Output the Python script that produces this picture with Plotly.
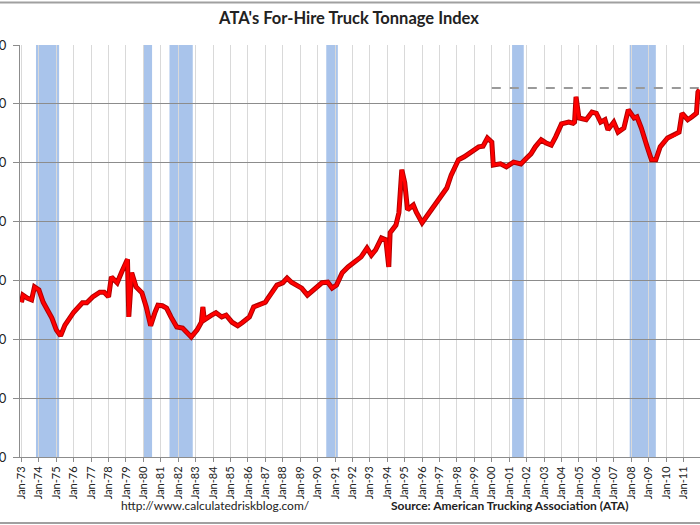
import plotly.graph_objects as go

# monthly readings of the tonnage index (2000=100)
months = [
    "1973-01", "1973-02", "1973-05", "1973-08", "1973-10", "1974-01", "1974-04", "1974-07",
    "1974-10", "1975-01", "1975-04", "1975-07", "1976-01", "1976-07", "1976-10", "1977-02",
    "1977-07", "1977-10", "1978-01", "1978-03", "1978-07", "1978-10", "1979-02", "1979-03",
    "1979-05", "1979-08", "1979-12", "1980-03", "1980-06", "1980-09", "1980-11", "1981-02",
    "1981-05", "1981-08", "1981-12", "1982-04", "1982-07", "1982-10", "1983-02", "1983-05",
    "1983-06", "1983-07", "1983-12", "1984-03", "1984-07", "1984-10", "1985-02", "1985-06",
    "1985-09", "1986-02", "1986-05", "1986-09", "1987-01", "1987-02", "1987-06", "1987-09",
    "1988-01", "1988-04", "1988-07", "1988-11", "1989-02", "1989-06", "1989-10", "1990-04",
    "1990-08", "1990-11", "1991-02", "1991-06", "1991-10", "1992-04", "1992-07", "1992-11",
    "1993-02", "1993-05", "1993-09", "1993-12", "1994-02", "1994-03", "1994-07", "1994-09",
    "1994-11", "1995-01", "1995-03", "1995-07", "1995-09", "1996-01", "1996-04", "1996-09",
    "1997-01", "1997-06", "1997-09", "1998-02", "1998-06", "1998-11", "1999-04", "1999-07",
    "1999-10", "2000-01", "2000-02", "2000-07", "2000-11", "2001-04", "2001-09", "2002-01",
    "2002-04", "2002-07", "2002-11", "2003-02", "2003-06", "2003-09", "2004-01", "2004-06",
    "2004-09", "2004-10", "2004-11", "2005-01", "2005-06", "2005-10", "2006-01", "2006-04",
    "2006-07", "2006-09", "2007-01", "2007-04", "2007-08", "2007-11", "2008-03", "2008-05",
    "2008-08", "2008-12", "2009-03", "2009-06", "2009-09", "2010-02", "2010-07", "2010-10",
    "2010-12", "2011-04", "2011-07", "2011-10", "2011-11", "2011-12",
]
tonnage = [
    76.3, 77.5, 77.0, 76.7, 78.9, 78.4, 76.3, 75.0,
    73.6, 71.6, 70.6, 72.4, 74.6, 76.2, 76.2, 77.2,
    78.0, 78.0, 77.2, 80.6, 79.6, 81.4, 83.6, 73.8,
    81.3, 78.9, 77.9, 75.5, 72.3, 74.6, 75.8, 75.7,
    75.3, 73.8, 72.1, 71.9, 71.2, 70.4, 71.6, 72.9,
    75.5, 73.3, 74.1, 74.5, 73.8, 74.1, 72.9, 72.3,
    72.8, 73.8, 75.5, 75.8, 76.3, 76.7, 78.0, 79.2,
    79.6, 80.4, 79.7, 79.2, 78.7, 77.5, 78.4, 79.6,
    79.7, 78.7, 79.2, 81.3, 82.3, 83.5, 84.0, 85.5,
    84.3, 85.2, 87.2, 86.9, 82.3, 88.1, 89.4, 91.5,
    98.8, 96.6, 92.0, 92.8, 91.6, 89.8, 90.8, 92.5,
    94.0, 95.7, 97.9, 100.5, 101.0, 101.8, 102.7, 102.8,
    104.2, 103.5, 99.6, 99.8, 99.3, 100.1, 99.8, 100.8,
    101.5, 102.7, 103.9, 103.4, 103.0, 104.4, 106.6, 106.9,
    106.7, 106.9, 111.2, 107.6, 107.3, 108.6, 108.4, 106.9,
    107.3, 105.6, 106.9, 105.2, 105.9, 109.0, 107.6, 107.8,
    105.9, 102.7, 100.5, 100.5, 102.7, 104.2, 104.7, 105.2,
    108.4, 107.3, 107.8, 108.4, 112.0, 112.4,
]

# NBER recessions
recession_start = ["1973-11-01", "1980-01-01", "1981-07-01", "1990-07-01", "2001-03-01", "2007-12-01"]
recession_end = ["1975-03-01", "1980-07-01", "1982-11-01", "1991-03-01", "2001-11-01", "2009-06-01"]

# dashed reference level
ref_start = "2000-01-01"
ref_end = "2012-06-01"
ref_level = 112.7

y_ticks = [50, 60, 70, 80, 90, 100, 110, 120]

fig = go.Figure()

for s, e in zip(recession_start, recession_end):
    fig.add_shape(type="rect", xref="x", yref="paper", x0=s, x1=e, y0=0, y1=1,
                  fillcolor="#a9c4eb", line_width=0, layer="below")

fig.add_trace(go.Scatter(x=[ref_start, ref_end], y=[ref_level, ref_level], mode="lines",
                         line=dict(color="#9a9a9a", width=2, dash="dash"), hoverinfo="skip"))
fig.add_trace(go.Scatter(x=months, y=tonnage, mode="lines",
                         line=dict(color="#b00000", width=5), hoverinfo="skip"))
fig.add_trace(go.Scatter(x=months, y=tonnage, mode="lines",
                         line=dict(color="#ff0000", width=3)))

# chart-area border lines (top / bottom)
for yp in [1.103, -0.16]:
    fig.add_shape(type="line", xref="paper", yref="paper", x0=-0.03, x1=1.0, y0=yp, y1=yp,
                  line=dict(color="#a0a0a0", width=2))

fig.add_annotation(text="http://www.calculatedriskblog.com/", xref="paper", yref="paper",
                   x=(216 - 20) / 680, y=(457 - 505) / 412, xanchor="center", yanchor="middle",
                   showarrow=False, font=dict(family="Lato", size=12, color="#222"))
fig.add_annotation(text="<b>Source: American Trucking Association (ATA)</b>", xref="paper", yref="paper",
                   x=(510 - 20) / 680, y=(457 - 505) / 412, xanchor="center", yanchor="middle",
                   showarrow=False, font=dict(family="Lato", size=12, color="#222"))

fig.update_layout(
    width=700, height=525,
    margin=dict(l=20, r=0, t=45, b=68),
    paper_bgcolor="white", plot_bgcolor="white",
    showlegend=False,
    title=dict(text="<b>ATA's For-Hire Truck Tonnage Index</b>", x=349 / 700, xanchor="center",
               y=1 - 18 / 525, yanchor="middle", font=dict(family="Lato", size=16.5, color="#222")),
    font=dict(family="Lato", color="#222"),
    xaxis=dict(
        type="date", range=["1972-12-01", "2011-12-14"],
        tick0="1973-01-01", dtick="M12", tickformat="%b-%y", tickangle=-90,
        showgrid=True, gridcolor="#d9d9d9", gridwidth=1,
        showline=True, linecolor="#8c8c8c", linewidth=1,
        ticks="outside", ticklen=4, tickcolor="#8c8c8c",
        tickfont=dict(family="Lato", size=11, color="#222"),
        zeroline=False, automargin=False,
    ),
    yaxis=dict(
        range=[50, 120], tickvals=y_ticks,
        showgrid=True, gridcolor="#8c8c8c", gridwidth=1,
        showline=True, linecolor="#8c8c8c", linewidth=1,
        ticks="outside", ticklen=6, tickcolor="#8c8c8c", ticklabelstandoff=4,
        tickfont=dict(family="Lato", size=13, color="#222"),
        zeroline=False, automargin=False,
    ),
)

fig.write_html("out.html", config={"displayModeBar": False},
               post_script="document.body.style.margin='0';")
